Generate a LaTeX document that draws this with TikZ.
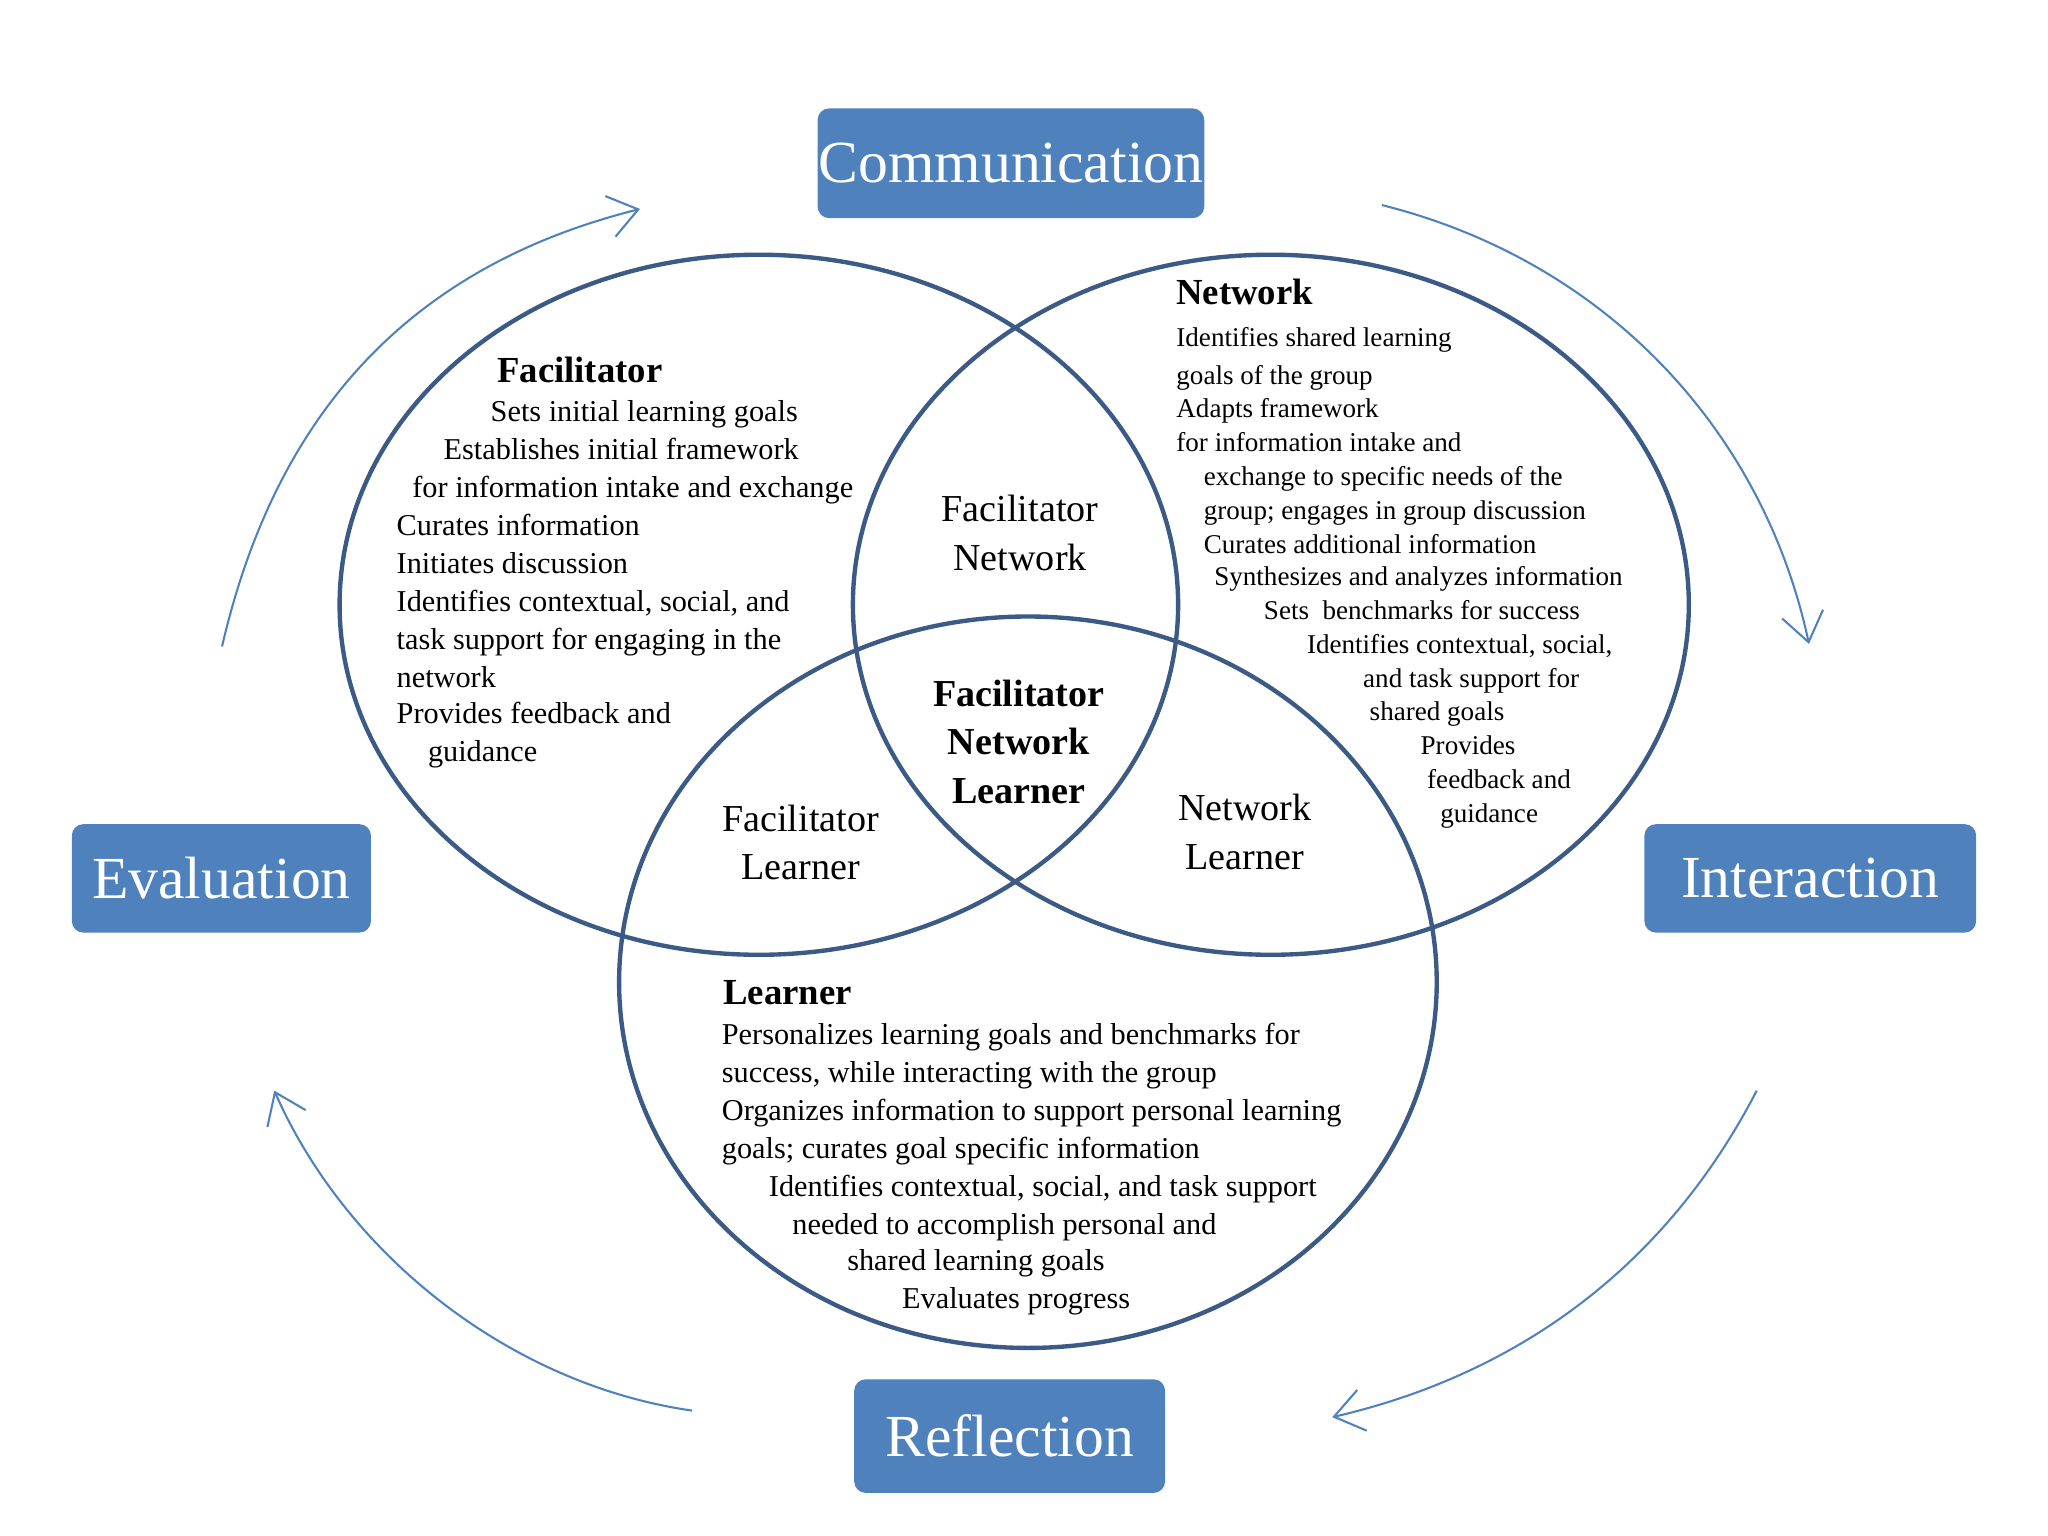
\documentclass[tikz,border=0pt]{standalone}
\usepackage{fontspec}
\setmainfont{Liberation Serif}
\usetikzlibrary{arrows.meta, positioning, shapes, calc}
\definecolor{ringblue}{HTML}{3B5A85}
\definecolor{boxblue}{HTML}{4F81BD}
\tikzset{
  ring/.style={draw=ringblue, line width=0.95pt},
  stage/.style={fill=boxblue, rounded corners=2.5pt, text=white, font=\fontsize{13}{15}\selectfont, inner sep=0pt},
  cycle/.style={draw=boxblue, line width=0.45pt, -{Straight Barb[length=2.2mm, width=3.2mm]}},
  body/.style={anchor=base west, inner sep=0pt, font=\fontsize{6.6}{8}\selectfont},
  small/.style={anchor=base west, inner sep=0pt, font=\fontsize{5.9}{7}\selectfont},
  title/.style={anchor=base west, inner sep=0pt, font=\fontsize{8}{9}\selectfont\bfseries},
  overlap/.style={align=center, inner sep=0pt, font=\fontsize{8.3}{10.5}\selectfont}
}
\begin{document}
\begin{tikzpicture}[x=0.1mm, y=-0.1mm]
    \useasboundingbox (0,0) rectangle (1568,1176);
    % The three circles
    \draw[ring] (581,463) ellipse [x radius=321, y radius=268];
    \draw[ring] (973,463) ellipse [x radius=320, y radius=268];
    \draw[ring] (787,752) ellipse [x radius=313, y radius=280];

    % Stages around the circles
    \node[stage, minimum width=29.6mm, minimum height=8.4mm] (comm) at (774,125) {Communication};
    \node[stage, minimum width=22.9mm, minimum height=8.3mm] (eval) at (169.5,672.5) {Evaluation};
    \node[stage, minimum width=25.4mm, minimum height=8.3mm] (inter) at (1386,672.5) {Interaction};
    \node[stage, minimum width=23.8mm, minimum height=8.7mm] (refl) at (773,1099.5) {Reflection};

    % Cycle arrows
    \coordinate (tlA) at (170,495);  \coordinate (tlB) at (490,160);
    \coordinate (trA) at (1058,157); \coordinate (trB) at (1385,493);
    \coordinate (brA) at (1345,835); \coordinate (brB) at (1020,1085);
    \coordinate (blA) at (530,1080); \coordinate (blB) at (210,835);
    \draw[cycle] (tlA) .. controls (215,300) and (330,200) .. (tlB);
    \draw[cycle] (trA) .. controls (1230,200) and (1350,330) .. (trB);
    \draw[cycle] (brA) .. controls (1270,980) and (1150,1055) .. (brB);
    \draw[cycle] (blA) .. controls (390,1060) and (265,960) .. (blB);

    % Facilitator
    \node[title] (facT) at (380,293) {Facilitator};
    \foreach \x/\y/\t in {375/323/{Sets initial learning goals},
        339/352/{Establishes initial framework},
        315/381/{for information intake and exchange},
        303/410/{Curates information},
        303/439/{Initiates discussion},
        303/468/{Identifies contextual, social, and},
        303/497/{task support for engaging in the},
        303/526/{network},
        303/554/{Provides feedback and},
        327/583/{guidance}}
      \node[body] at (\x,\y) {\t};

    % Network
    \node[title] (netT) at (900,233) {Network};
    \foreach \x/\y/\t in {900/265/{Identifies shared learning},
        900/294/{goals of the group},
        900/320/{Adapts framework},
        900/346/{for information intake and},
        921/372/{exchange to specific needs of the},
        921/398/{group; engages in group discussion},
        921/424/{Curates additional information},
        929/448/{Synthesizes and analyzes information},
        967/474/{Sets\ \ benchmarks for success},
        1000/500/{Identifies contextual, social,},
        1043/526/{and task support for},
        1048/552/{shared goals},
        1087/578/{Provides},
        1092/604/{feedback and},
        1102/630/{guidance}}
      \node[small] at (\x,\y) {\t};

    % Learner
    \node[title] (lrnT) at (553,769) {Learner};
    \foreach \x/\y/\t in {552/800/{Personalizes learning goals and benchmarks for},
        552/829/{success, while interacting with the group},
        552/858/{Organizes information to support personal learning},
        552/887/{goals; curates goal specific information},
        588/916/{Identifies contextual, social, and task support},
        606/945/{needed to accomplish personal and},
        648/973/{shared learning goals},
        690/1002/{Evaluates progress}}
      \node[body] at (\x,\y) {\t};

    % Overlaps
    \node[overlap] (fn) at (781,408) {Facilitator\\Network};
    \node[overlap] (fl) at (613,645) {Facilitator\\Learner};
    \node[overlap] (nl) at (953,637) {Network\\Learner};
    \node[overlap, font=\fontsize{8.3}{10.5}\selectfont\bfseries] (fnl) at (780,568) {Facilitator\\Network\\Learner};
\end{tikzpicture}
\end{document}
